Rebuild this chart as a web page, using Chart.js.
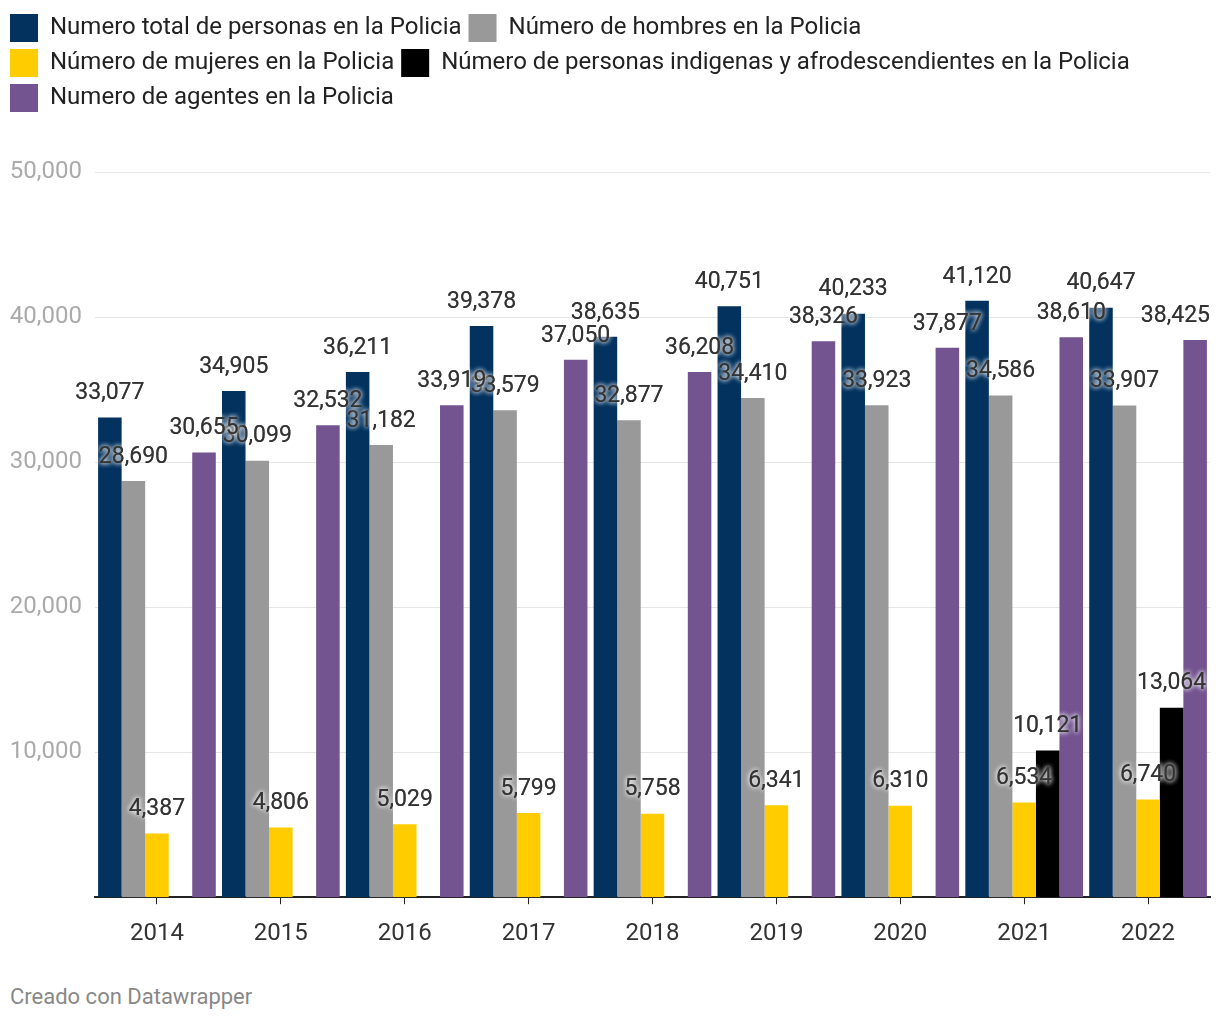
<!doctype html>
<html lang="es">
  <head>
    <meta charset="utf-8">
    <title>Personas en la Policia</title>
    <style>
      * { margin: 0; padding: 0; }
      body { background: #fff; font-family: Roboto, sans-serif; }
      .chartBox { position: relative; width: 1220px; height: 966px; }
      .footer { position: absolute; left: 10px; top: 983px; font-size: 22px; line-height: 28px; color: #888; }
    </style>
  </head>
  <body>
    <div class="chartBox">
      <canvas id="myChart"></canvas>
    </div>
    <div class="footer">Creado con Datawrapper</div>
    <script src="https://cdn.jsdelivr.net/npm/chart.js/dist/chart.umd.min.js"></script>
    <script>
    // data
    const years = ['2014', '2015', '2016', '2017', '2018', '2019', '2020', '2021', '2022'];
    const totalPersonas = [33077, 34905, 36211, 39378, 38635, 40751, 40233, 41120, 40647];
    const hombres = [28690, 30099, 31182, 33579, 32877, 34410, 33923, 34586, 33907];
    const mujeres = [4387, 4806, 5029, 5799, 5758, 6341, 6310, 6534, 6740];
    const indigenasAfro = [null, null, null, null, null, null, null, 10121, 13064];
    const agentes = [30655, 32532, 33919, 37050, 36208, 38326, 37877, 38610, 38425];
    const yTicks = [0, 10000, 20000, 30000, 40000, 50000];

    const data = {
      labels: years,
      datasets: [
        { label: 'Numero total de personas en la Policia', data: totalPersonas, backgroundColor: '#03325f' },
        { label: 'Número de hombres en la Policia', data: hombres, backgroundColor: '#999999' },
        { label: 'Número de mujeres en la Policia', data: mujeres, backgroundColor: '#ffcc00' },
        { label: 'Número de personas indigenas y afrodescendientes en la Policia', data: indigenasAfro, backgroundColor: '#000000' },
        { label: 'Numero de agentes en la Policia', data: agentes, backgroundColor: '#735390' }
      ]
    };

    // extra room under the legend
    const legendSpace = {
      id: 'legendSpace',
      beforeInit(chart) {
        const fit = chart.legend.fit;
        chart.legend.fit = function () {
          fit.bind(chart.legend)();
          this.height += 50;
        };
      }
    };

    // value labels above each bar, kept inside the canvas
    const barLabels = {
      id: 'barLabels',
      afterDatasetsDraw(chart) {
        const { ctx } = chart;
        ctx.save();
        ctx.font = '23px Roboto';
        ctx.textAlign = 'center';
        ctx.textBaseline = 'middle';
        chart.data.datasets.forEach((ds, i) => {
          const meta = chart.getDatasetMeta(i);
          meta.data.forEach((bar, j) => {
            const v = ds.data[j];
            if (v === null) return;
            const txt = v.toLocaleString('en-US');
            const half = ctx.measureText(txt).width / 2;
            const x = Math.min(bar.x, chart.width - 10 - half);
            ctx.shadowColor = 'rgba(255,255,255,0.9)';
            ctx.shadowBlur = 5;
            ctx.fillStyle = '#333';
            ctx.fillText(txt, x, bar.y - 24);
            ctx.fillText(txt, x, bar.y - 24);
          });
        });
        ctx.restore();
      }
    };

    const config = {
      type: 'bar',
      data,
      options: {
        responsive: true,
        maintainAspectRatio: false,
        animation: false,
        datasets: {
          bar: { categoryPercentage: 0.95, barPercentage: 1.0 }
        },
        layout: { padding: { left: 3, right: 10, top: 7, bottom: 3 } },
        scales: {
          x: {
            grid: { drawOnChartArea: false, drawTicks: true, tickLength: 7, tickColor: '#222', offset: false },
            border: { color: '#222', width: 2 },
            ticks: { color: '#333', font: { family: 'Roboto', size: 24 }, padding: 15 }
          },
          y: {
            min: 0,
            max: 50000,
            afterBuildTicks(scale) {
              scale.ticks = yTicks.map(v => ({ value: v }));
            },
            afterFit(scale) { scale.width = 92; },
            grid: { color: '#e5e5e5', drawTicks: false, lineWidth: (c) => c.tick && c.tick.value === 0 ? 0 : 1 },
            border: { display: false },
            ticks: {
              color: '#aaaaaa',
              font: { family: 'Roboto', size: 24 },
              padding: 13,
              callback: (v) => v === 0 ? '' : v.toLocaleString('en-US')
            }
          }
        },
        plugins: {
          legend: {
            position: 'top',
            align: 'start',
            labels: {
              boxWidth: 28,
              boxHeight: 28,
              padding: 7,
              color: '#222',
              font: { family: 'Roboto', size: 24 }
            }
          },
          tooltip: { enabled: false }
        }
      },
      plugins: [legendSpace, barLabels]
    };

    const myChart = new Chart(document.getElementById('myChart'), config);
    </script>
  </body>
</html>
